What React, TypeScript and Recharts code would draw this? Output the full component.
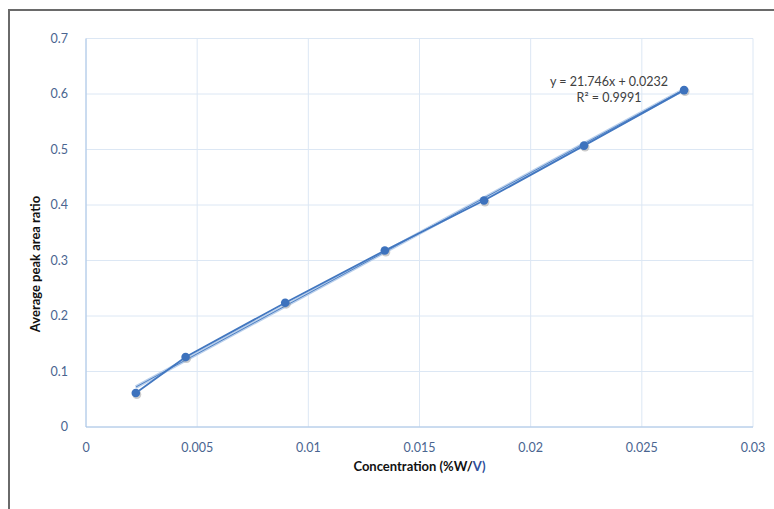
import React from "react";
import {
  ComposedChart,
  Line,
  XAxis,
  YAxis,
  CartesianGrid,
  Label,
} from "recharts";

const concentrations = [0.00224, 0.00448, 0.00896, 0.01344, 0.0179, 0.0224, 0.0269];
const peakRatios = [0.0613, 0.126, 0.224, 0.318, 0.408, 0.507, 0.607];
const xTicks = [0, 0.005, 0.01, 0.015, 0.02, 0.025, 0.03];
const yTicks = [0, 0.1, 0.2, 0.3, 0.4, 0.5, 0.6, 0.7];
const slope = 21.746;
const intercept = 0.0232;

const points = concentrations.map((x, i) => ({ x, y: peakRatios[i] }));
const trend = [concentrations[0], concentrations[concentrations.length - 1]].map((x) => ({
  x,
  trend: slope * x + intercept,
}));

const tickStyle = { fill: "#4a6590", fontSize: 12.5, fontFamily: "Lato" };
const titleStyle = { fontSize: 13, fontWeight: 700, fontFamily: "Lato", fill: "#111" };

const Marker = (props: any) => {
  const { cx, cy } = props;
  if (cx == null || cy == null) return null;
  return (
    <g>
      <circle cx={cx + 1} cy={cy + 1.5} r={4.5} fill="#9a9a9a" opacity={0.5} />
      <circle cx={cx} cy={cy} r={4.3} fill="#3d72bd" />
    </g>
  );
};

// x title sits a bit under the ticks, last "V)" is blue in the original
const XTitle = (props: any) => {
  const { viewBox } = props;
  const cx = viewBox.x + viewBox.width / 2;
  return (
    <text x={cx} y={471} textAnchor="middle" style={titleStyle}>
      Concentration (%W/
      <tspan fill="#2f4f9c">V)</tspan>
    </text>
  );
};

const YTitle = () => (
  <text
    x={0}
    y={0}
    transform="translate(40, 264) rotate(-90)"
    textAnchor="middle"
    style={titleStyle}
  >
    Average peak area ratio
  </text>
);

export default function App() {
  return (
    <div
      style={{
        position: "absolute",
        left: 0,
        top: 0,
        width: 774,
        height: 509,
        overflow: "hidden",
        background: "#fff",
      }}
    >
      <div
        style={{
          position: "absolute",
          left: 8,
          top: 9,
          width: 900,
          height: 700,
          border: "2px solid #6a6a6a",
        }}
      />
      <ComposedChart
        width={774}
        height={509}
        margin={{ top: 38.5, right: 21, bottom: 52, left: 26 }}
        style={{ position: "absolute", left: 0, top: 0 }}
      >
        <CartesianGrid stroke="#dce7f4" strokeWidth={1} />
        <XAxis
          type="number"
          dataKey="x"
          domain={[0, 0.03]}
          ticks={xTicks}
          tick={tickStyle}
          tickLine={false}
          axisLine={{ stroke: "#a8c4e6" }}
          tickMargin={10}
          height={30}
          allowDataOverflow
        >
          <Label content={<XTitle />} />
        </XAxis>
        <YAxis
          type="number"
          domain={[0, 0.7]}
          ticks={yTicks}
          tick={tickStyle}
          tickLine={false}
          axisLine={{ stroke: "#a8c4e6" }}
          tickMargin={12}
          width={60}
          allowDataOverflow
        >
          <Label content={<YTitle />} />
        </YAxis>
        <Line
          data={trend}
          dataKey="trend"
          stroke="#b9cfeb"
          strokeWidth={3.5}
          dot={false}
          isAnimationActive={false}
        />
        <Line
          data={trend}
          dataKey="trend"
          stroke="#4f81c4"
          strokeWidth={1}
          dot={false}
          isAnimationActive={false}
        />
        <Line
          data={points}
          dataKey="y"
          stroke="#4277c0"
          strokeWidth={1.8}
          dot={<Marker />}
          isAnimationActive={false}
        />
      </ComposedChart>
      <div
        style={{
          position: "absolute",
          left: 509,
          top: 74,
          width: 200,
          textAlign: "center",
          fontFamily: "Lato",
          fontSize: 12.5,
          lineHeight: "16px",
          color: "#404040",
        }}
      >
        y = 21.746x + 0.0232
        <br />
        R² = 0.9991
      </div>
    </div>
  );
}
